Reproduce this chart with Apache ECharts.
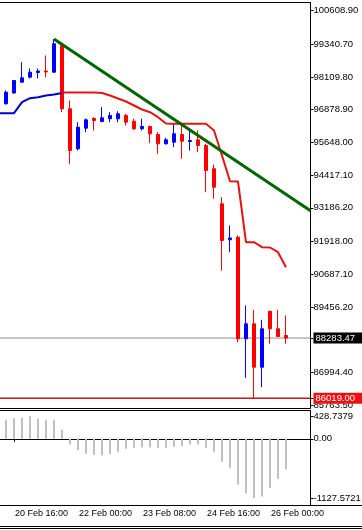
<!DOCTYPE html>
<html><head><meta charset="utf-8">
<script src="https://cdn.jsdelivr.net/npm/echarts@6/dist/echarts.min.js"></script>
<style>html,body{margin:0;padding:0;background:#fff;overflow:hidden}#c{width:362px;height:530px}</style>
</head><body><div id="c"></div>
<script>
// ---- data (H4 bars) ----
const times = ['20 Feb 08:00','20 Feb 12:00','20 Feb 16:00','20 Feb 20:00','21 Feb 00:00','21 Feb 04:00','21 Feb 08:00','21 Feb 12:00','21 Feb 16:00','21 Feb 20:00',
  '22 Feb 00:00','22 Feb 04:00','22 Feb 08:00','22 Feb 12:00','22 Feb 16:00','22 Feb 20:00','23 Feb 00:00','23 Feb 04:00','23 Feb 08:00','23 Feb 12:00',
  '23 Feb 16:00','23 Feb 20:00','24 Feb 00:00','24 Feb 04:00','24 Feb 08:00','24 Feb 12:00','24 Feb 16:00','24 Feb 20:00','25 Feb 00:00','25 Feb 04:00',
  '25 Feb 08:00','25 Feb 12:00','25 Feb 16:00','25 Feb 20:00','26 Feb 00:00','26 Feb 04:00','26 Feb 08:00'];
const opens  = [96845.9,97098.0,97504.4,97910.8,98099.0,98275.8,98332.3,98287.1,99291.8,96909.9,
  95404.7,96179.8,96544.9,96432.0,96533.6,96533.6,96657.7,96443.2,96157.3,96243.8,
  95942.8,95592.8,95653.0,95942.8,95679.4,95743.3,95528.8,94652.1,93335.0,91980.3,
  92078.2,88255.0,88819.4,87186.3,89293.6,88631.3,88379.2];
const closes = [97109.3,97534.5,97974.8,98076.4,98287.1,98332.3,98294.7,99355.8,96909.9,95340.7,
  96217.5,96495.9,96469.6,96571.2,96657.7,96721.7,96405.6,96157.3,96243.8,95969.1,
  95592.8,95743.3,95969.1,95690.7,95717.0,95528.8,94588.1,93959.7,91954.0,92048.1,
  88255.0,88819.4,87186.3,88631.3,88631.3,88341.5,88283.47];
const lows   = [96770.6,97071.7,97485.6,97899.5,98050.1,98050.1,98099.0,98275.8,96781.9,94840.2,
  95340.7,96029.3,96093.3,96405.6,96405.6,96405.6,96281.4,96119.6,96093.3,95615.4,
  95216.5,95566.5,95464.9,95028.4,95340.7,95276.7,93771.5,93523.2,90825.1,91513.7,
  88127.0,86787.4,86019.0,86433.7,88066.8,88341.5,88066.8];
const highs  = [97184.6,97598.5,97993.6,98663.4,98426.4,98426.4,98915.5,99536.4,99404.7,97222.2,
  96405.6,96544.9,96593.8,96970.1,96781.9,96819.6,96721.7,96533.6,96533.6,96281.4,
  96029.3,95818.6,96345.4,96345.4,96119.6,96093.3,95592.8,94813.9,93583.4,92518.4,
  92142.1,89508.0,89346.4,88969.9,89293.6,89346.4,89131.7];
// trailing stop line: blue (uptrend) and red (downtrend) buffers
const stopUp = [96744.3,96744.3,96744.3,97158.4,97308.7,97346.4,97410.3,97448.0,97504.4,null,
  null,null,null,null,null,null,null,null,null,null,null,null,null,null,null,null,null,null,null,null,null,null,null,null,null,null,null];
const stopDown = [null,null,null,null,null,null,null,null,97523.2,97523.2,
  97523.2,97523.2,97523.2,97504.4,97410.3,97297.5,97184.6,97034.0,96883.5,96781.9,
  96593.8,96356.7,96345.4,96345.4,96345.4,96345.4,96345.4,96093.3,95152.5,94185.5,
  94174.2,91890.0,91890.0,91701.9,91690.6,91513.7,90949.3];
// oscillator histogram
const histogram = [null,361,391,405,428.7379,380,354,361,173,-110,
  -222,-286,-310,-316,-297,-248,-192,-173,-160,-160,
  -173,-173,-150,-141,-110,-110,-173,-248,-437,-550,
  -875,-1039,-1127.5721,-1101,-937,-768,-580];
// trend line anchors
const trendTimes = ['21 Feb 12:00','26 Feb 08:00'];
const trendPrices = [99536.4, 93688.8];
// horizontal levels
const bidPrice = 88283.47;
const lowLevel = 86019.00;
// tick labels
const priceTicks = [100608.90,99340.70,98109.80,96878.90,95648.00,94417.10,93186.20,91918.00,90687.10,89456.20,86994.40,85763.50,88283.47,86019.00];
const subTickValues = [428.7379, 0, -1127.5721];
const subTickLabels = ['428.7379','0.00','-1127.5721'];
const xTickLabels = ['20 Feb 16:00','22 Feb 00:00','23 Feb 08:00','24 Feb 16:00','26 Feb 00:00'];

// ---- chart ----
const xMin = 0.1875, xMax = 39.0625;
const font = 'Liberation Sans, Arial, sans-serif';
const candleData = times.map((t,k)=>[k, opens[k], closes[k], lows[k], highs[k]]);
const pairs = arr => arr.map((v,k)=> v==null ? null : [k, v]).filter(Boolean);
const ta = times.indexOf(trendTimes[0]), tb = times.indexOf(trendTimes[1]);
const slope = (trendPrices[1]-trendPrices[0])/(tb-ta);
const trendData = [[ta, trendPrices[0]], [xMax, trendPrices[0] + slope*(xMax-ta)]];
const xTickPos = xTickLabels.map(t=>times.indexOf(t));

const chart = echarts.init(document.getElementById('c'));
chart.setOption({
  animation:false,
  backgroundColor:'#fff',
  grid:[
    {left:-0.5, top:2.5, width:311, height:406, show:true, borderColor:'#000', borderWidth:1, outerBoundsMode:'none', containLabel:false},
    {left:-0.5, top:410.5, width:311, height:95, show:true, borderColor:'#000', borderWidth:1, outerBoundsMode:'none', containLabel:false}
  ],
  xAxis:[
    {type:'value', gridIndex:0, min:xMin, max:xMax, show:false, splitLine:{show:false}},
    {type:'value', gridIndex:1, min:xMin, max:xMax, position:'bottom',
     axisLine:{show:true, lineStyle:{color:'#000', width:1}},
     splitLine:{show:false},
     axisTick:{show:true, customValues:xTickPos, length:3, lineStyle:{color:'#000'}},
     axisLabel:{show:true, customValues:xTickPos, formatter:v=>times[Math.round(v)], align:'left', margin:4,
       color:'#000', fontSize:9, fontFamily:font, padding:[0,0,0,1]}}
  ],
  yAxis:[
    {type:'value', gridIndex:0, position:'right', min:85632.2, max:100909.9, scale:true,
     axisLine:{show:true, lineStyle:{color:'#000', width:1}},
     splitLine:{show:false},
     axisTick:{show:true, customValues:priceTicks, length:3, inside:false, lineStyle:{color:'#000'}},
     axisLabel:{show:true, customValues:priceTicks, margin:3, color:'#000', fontSize:9.5, fontFamily:font,
       formatter:v=>{const s=Number(v).toFixed(2);
         if(Math.abs(v-bidPrice)<0.001) return '{bid|'+s+'}';
         if(Math.abs(v-lowLevel)<0.001) return '{low|'+s+'}';
         return s;},
       rich:{
         bid:{backgroundColor:'#000', color:'#fff', fontSize:9.5, fontFamily:font, width:45, lineHeight:10, padding:[1,2,0,2]},
         low:{backgroundColor:'#ee1111', color:'#fff', fontSize:9.5, fontFamily:font, width:45, lineHeight:10, padding:[1,2,0,2]}
       }}},
    {type:'value', gridIndex:1, position:'right', min:-1272, max:539.7,
     axisLine:{show:true, lineStyle:{color:'#000', width:1}},
     splitLine:{show:false},
     axisTick:{show:true, customValues:subTickValues, length:3, lineStyle:{color:'#000'}},
     axisLabel:{show:true, customValues:subTickValues, margin:3, color:'#000', fontSize:9.5, fontFamily:font,
       formatter:v=>{const i=subTickValues.findIndex(x=>Math.abs(x-v)<1e-6); return i>=0?subTickLabels[i]:'';}}}
  ],
  series:[
    {type:'line', xAxisIndex:0, yAxisIndex:0, data:[[xMin,bidPrice],[xMax,bidPrice]], symbol:'none', silent:true, z:1,
     lineStyle:{color:'#8c8c8c', width:1}},
    {type:'line', xAxisIndex:0, yAxisIndex:0, data:[[xMin,lowLevel],[xMax,lowLevel]], symbol:'none', silent:true, z:1,
     lineStyle:{color:'#c41818', width:1.6}},
    {type:'candlestick', xAxisIndex:0, yAxisIndex:0, data:candleData, barWidth:4, z:2, clip:true,
     itemStyle:{color:'#0000ff', color0:'#ff0000', borderColor:'#0000ff', borderColor0:'#ff0000', borderWidth:1}},
    {type:'line', xAxisIndex:0, yAxisIndex:0, data:pairs(stopUp), symbol:'none', z:3, clip:true,
     lineStyle:{color:'#0000cc', width:2}},
    {type:'line', xAxisIndex:0, yAxisIndex:0, data:pairs(stopDown), symbol:'none', z:3, clip:true,
     lineStyle:{color:'#e41414', width:2}},
    {type:'line', xAxisIndex:0, yAxisIndex:0, data:trendData, symbol:'none', z:4, clip:true,
     lineStyle:{color:'#006400', width:3}},
    {type:'bar', xAxisIndex:1, yAxisIndex:1, data:pairs(histogram), barWidth:2, itemStyle:{color:'#c0c0c0'}}
  ],
  graphic:[
    {type:'rect', shape:{x:311, y:408, width:51, height:2}, style:{fill:'#fff'}, z:100},
    {type:'line', shape:{x1:310, y1:505.5, x2:362, y2:505.5}, style:{stroke:'#000', lineWidth:1}, z:100},
    {type:'line', shape:{x1:0, y1:526.5, x2:362, y2:526.5}, style:{stroke:'#000', lineWidth:1}, z:100},
    {type:'line', shape:{x1:0, y1:528.5, x2:362, y2:528.5}, style:{stroke:'#000', lineWidth:1}, z:100}
  ]
});
</script></body></html>
